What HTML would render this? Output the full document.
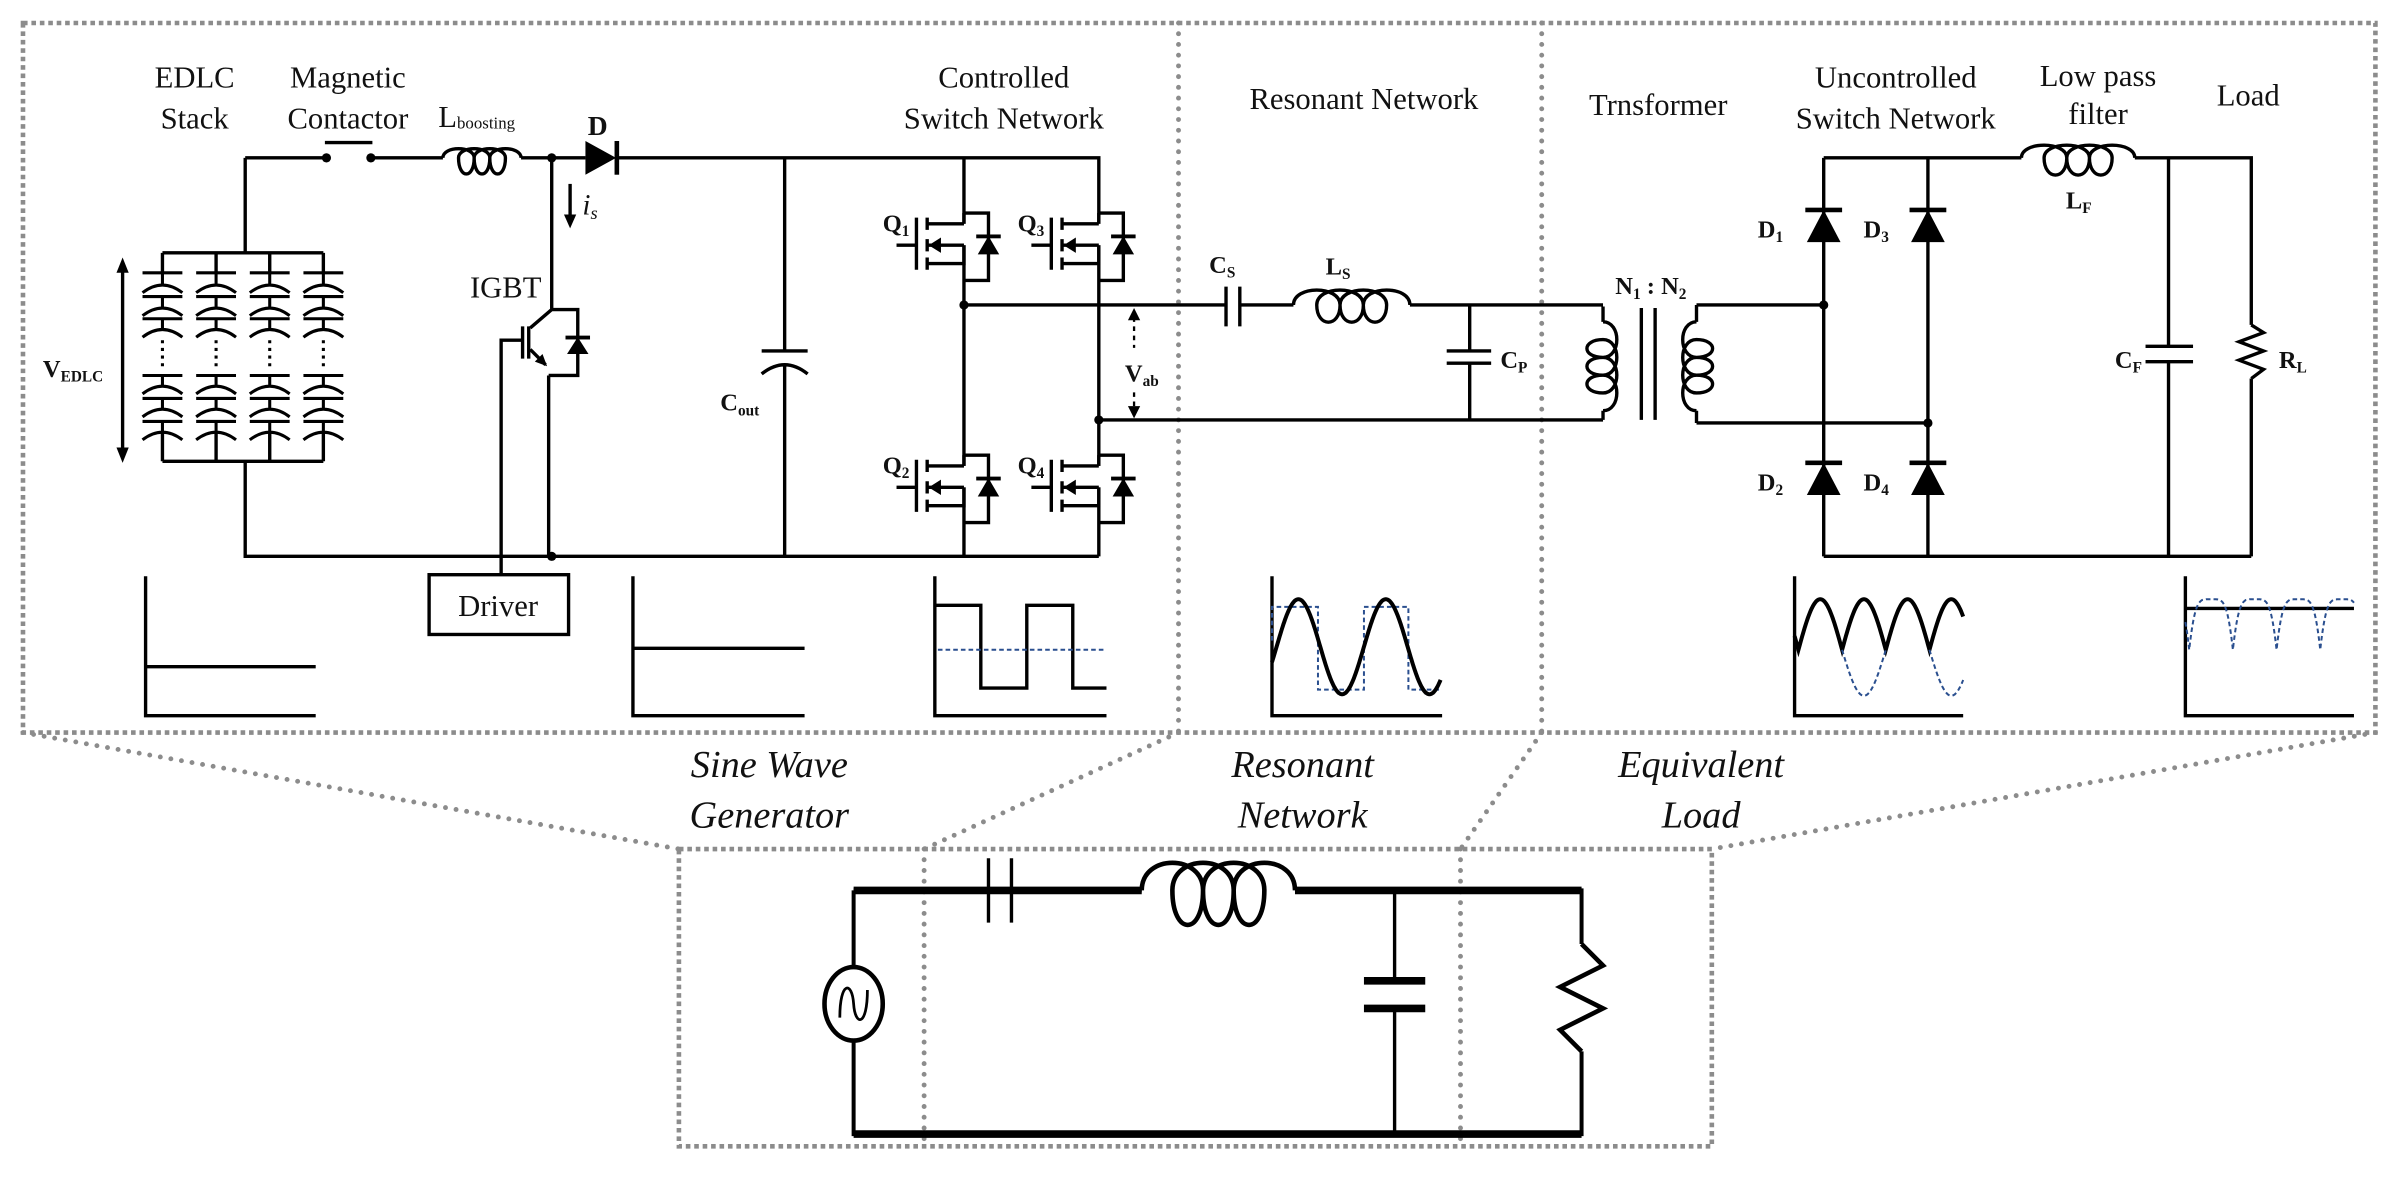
<!DOCTYPE html>
<html><head><meta charset="utf-8">
<style>
html,body{margin:0;padding:0;background:#fff;}
svg{display:block;}
text{font-family:"Liberation Serif",serif;fill:#111;}
.b{font-weight:bold;}
</style></head>
<body>
<svg id="s" width="2403" height="1196" viewBox="0 0 1568 780.4" preserveAspectRatio="none" xmlns="http://www.w3.org/2000/svg">
<g fill="none" stroke="#8c8c8c" stroke-width="3">
  <rect x="15" y="15" width="1535" height="463" stroke-dasharray="3 2.5"/>
  <rect x="443" y="554" width="674" height="194" stroke-dasharray="3 2.5"/>
</g>
<g fill="none" stroke="#8c8c8c" stroke-width="3.2" stroke-linecap="round" stroke-dasharray="0 7">
  <line x1="769" y1="15" x2="769" y2="478"/>
  <line x1="1006" y1="15" x2="1006" y2="478"/>
  <line x1="15" y1="478" x2="443" y2="554"/>
  <line x1="1550" y1="478" x2="1117" y2="554"/>
  <line x1="769" y1="478" x2="603" y2="554"/>
  <line x1="1006" y1="478" x2="953" y2="554"/>
  <line x1="603" y1="554" x2="603" y2="748"/>
  <line x1="953" y1="554" x2="953" y2="748"/>
</g>

<g font-size="20" text-anchor="middle">
  <text x="127" y="57">EDLC</text><text x="127" y="84">Stack</text>
  <text x="227" y="57">Magnetic</text><text x="227" y="84">Contactor</text>
  <text x="655" y="57">Controlled</text><text x="655" y="84">Switch Network</text>
  <text x="890" y="71">Resonant Network</text>
  <text x="1082" y="75">Trnsformer</text>
  <text x="1237" y="57">Uncontrolled</text><text x="1237" y="84">Switch Network</text>
  <text x="1369" y="56">Low pass</text><text x="1369" y="81">filter</text>
  <text x="1467" y="69">Load</text>
  <text x="330" y="194">IGBT</text>
  <text x="325" y="402">Driver</text>
</g>
<text x="286" y="83" font-size="20">L<tspan font-size="11" dy="1">boosting</tspan></text>
<text x="390" y="88" font-size="18" class="b" text-anchor="middle">D</text>
<text x="380" y="140" font-size="19" font-style="italic">i<tspan font-size="12" dy="3">s</tspan></text>
<g font-size="16" class="b">
  <text x="28" y="246">V<tspan font-size="10" dy="3">EDLC</tspan></text>
  <text x="470" y="268">C<tspan font-size="10" dy="3">out</tspan></text>
  <text x="576" y="151">Q<tspan font-size="10" dy="3">1</tspan></text>
  <text x="664" y="151">Q<tspan font-size="10" dy="3">3</tspan></text>
  <text x="576" y="309">Q<tspan font-size="10" dy="3">2</tspan></text>
  <text x="664" y="309">Q<tspan font-size="10" dy="3">4</tspan></text>
  <text x="734" y="249">V<tspan font-size="10" dy="3">ab</tspan></text>
  <text x="789" y="178">C<tspan font-size="10" dy="3">S</tspan></text>
  <text x="865" y="179">L<tspan font-size="10" dy="3">S</tspan></text>
  <text x="979" y="240">C<tspan font-size="10" dy="3">P</tspan></text>
  <text x="1054" y="192">N<tspan font-size="10" dy="3">1</tspan><tspan dy="-3"> : N</tspan><tspan font-size="10" dy="3">2</tspan></text>
  <text x="1147" y="155">D<tspan font-size="10" dy="3">1</tspan></text>
  <text x="1216" y="155">D<tspan font-size="10" dy="3">3</tspan></text>
  <text x="1147" y="320">D<tspan font-size="10" dy="3">2</tspan></text>
  <text x="1216" y="320">D<tspan font-size="10" dy="3">4</tspan></text>
  <text x="1348" y="136">L<tspan font-size="10" dy="3">F</tspan></text>
  <text x="1380" y="240">C<tspan font-size="10" dy="3">F</tspan></text>
  <text x="1487" y="240">R<tspan font-size="10" dy="3">L</tspan></text>
</g>
<g font-size="25" font-style="italic" text-anchor="middle">
  <text x="502" y="507">Sine Wave</text><text x="502" y="540">Generator</text>
  <text x="850" y="507">Resonant</text><text x="850" y="540">Network</text>
  <text x="1110" y="507">Equivalent</text><text x="1110" y="540">Load</text>
</g>

<g id="c" fill="none" stroke="#000" stroke-width="2.2">
  <path d="M160,103 H213 M242,103 H289 M340,103 H382 M403,103 H717 V146"/>
  <path d="M212,93 H243"/>
  <path d="M160,103 V165 M106,165 H211 M106,165 V178 M141,165 V178 M176,165 V178 M211,165 V178"/>
  <path d="M106,282 V301 M141,282 V301 M176,282 V301 M211,282 V301 M106,301 H211 M160,301 V363 H717"/>
  <path d="M360,103 V202 H377 V245 H358 M360,202 L346,214 M358,245 V363"/>
  <path d="M341,213 V234 M345,213 V234"/>
  <path d="M327,375 V222 H341"/>
  <path d="M346,228 L356,238"/>
  <rect x="280" y="375" width="91" height="39"/>
  <path d="M512,103 V229 M497,229 H527 M497,244 Q512,232 527,244 M512,238 V363"/>
  <path d="M629,103 V146 M629,160 V304 M629,318 V363 M717,160 V304 M717,318 V363"/>
  <path d="M629,199 H800 M809,199 H844 M920,199 H1046 M717,274 H1046"/>
  <path d="M959,199 V229 M944,229 H973 M944,237 H973 M959,237 V274"/>
  <path d="M800,187 V213 M809,187 V213"/>
  <path d="M1046,200 V210 M1046,268 V274 M1107,199 V210 M1107,268 V276 M1107,199 H1190 M1107,276 H1258"/>
  <path d="M1071,201 V274 M1080,201 V274"/>
  <path d="M1190,103 V363 M1258,103 V363 M1190,103 H1319 M1393,103 H1469 V212 M1469,247 V363 M1190,363 H1469"/>
  <path d="M1415,103 V226 M1400,226 H1431 M1400,236 H1431 M1415,236 V363"/>
  <path d="M1469,212 L1477,217 L1461,223 L1477,229 L1461,235 L1477,241 L1469,247"/>
  <path d="M80,175 V295"/>
  <path d="M372,120 V144"/>
  <path d="M740,207 V227 M740,256 V268" stroke-dasharray="3 3" stroke-width="1.5"/>
  <path d="M95,376 V467 H206 M95,435 H206"/>
  <path d="M413,376 V467 H525 M413,423 H525"/>
  <path d="M610,376 V467 H722 M610,395 H640 V449 H670 V395 H700 V449 H722"/>
  <path d="M830,376 V467 H941"/>
  <path d="M1171,376 V467 H1281"/>
  <path d="M1426,376 V467 H1536 M1426,397 H1536"/>
  <path d="M557,581 H645 M660,581 H745 M845,581 H1032 V616 M1032,686 V740 H557 V678 M557,632 V581" stroke-width="2.6"/>
  <path d="M557,581 H745 M845,581 H1032 M557,740 H1032" stroke-width="5"/>
  <path d="M645,560 V602 M660,560 V602"/>
  <path d="M910,581 V640 M910,658 V740"/>
  <path d="M890,640 H930 M890,658 H930" stroke-width="5"/>
  <ellipse cx="557" cy="655" rx="19" ry="24" stroke-width="3"/>
  <path d="M548,664 C548,640 556,640 557,655 C558,670 566,670 566,646" stroke-width="1.8"/>
  <path d="M1032,616 L1046,630 L1018,644 L1046,658 L1018,672 L1032,686" stroke-width="3"/>
</g>
<g fill="none" stroke="#2a4f8f" stroke-width="1.3" stroke-dasharray="3 2">
  <path d="M612,424 H722"/>
  <path d="M830,418 V396 H860 V450 H890 V396 H919 V450 H939"/>
</g>
<g fill="#000">
  <circle cx="360" cy="103" r="3"/><circle cx="213" cy="103" r="3"/><circle cx="242" cy="103" r="3"/>
  <circle cx="360" cy="363" r="3"/><circle cx="629" cy="199" r="3"/><circle cx="717" cy="274" r="3"/>
  <circle cx="1190" cy="199" r="3"/><circle cx="1258" cy="276" r="3"/>
  <polygon points="382,92 382,114 402,103"/><rect x="401" y="92" width="3" height="22"/>
  <polygon points="377,220 370,231 384,231"/><rect x="369" y="219" width="16" height="2.5"/>
  <polygon points="357,239 349,236 354,231"/>
  <polygon points="80,168 76,178 84,178"/><polygon points="80,302 76,292 84,292"/>
  <polygon points="372,149 368,140 376,140"/>
  <polygon points="740,201 736,209 744,209"/><polygon points="740,273 736,265 744,265"/>
</g>
<g id="dyn"></g>
</svg>
<script>
(function(){
var NS="http://www.w3.org/2000/svg",dyn=document.getElementById('dyn');
function el(tag,attrs,parent){var e=document.createElementNS(NS,tag);for(var k in attrs)e.setAttribute(k,attrs[k]);(parent||dyn).appendChild(e);return e;}
function coil(xa,xb,y,n,H,D){
  var s=(xb-xa)/(n-0.5*(n-1)),w=s*0.25,u=xa,d="M"+xa+","+y;
  for(var i=0;i<n;i++){
    d+=" C"+u+","+(y-H)+" "+(u+s)+","+(y-H)+" "+(u+s)+","+y;
    if(i<n-1){d+=" C"+(u+s)+","+(y+D)+" "+(u+s-2*w)+","+(y+D)+" "+(u+s-2*w)+","+y;u=u+s-2*w;}
  }
  return d;
}
var st={fill:"none",stroke:"#000","stroke-width":"2.2"};
function P(d,extra,par){var a={d:d};for(var k in st)a[k]=st[k];for(var k2 in (extra||{}))a[k2]=extra[k2];return el("path",a,par);}
P(coil(289,340,103,4,8,14));
P(coil(844,920,199,4,13,15));
P(coil(1319,1393,103,4,11,15));
P(coil(745,845,581,4,24,30),{"stroke-width":"3"});
var g1=el("g",{transform:"translate(1046,210) rotate(90)"});P(coil(0,58,0,4,12,14),{},g1);
var g2=el("g",{transform:"translate(1107,210) rotate(90) scale(1,-1)"});P(coil(0,58,0,4,12,14),{},g2);
var cols=[106,141,176,211],flats=[178,193.5,208,245,260,275],curv=[186,201,215,252,267,282];
cols.forEach(function(x){
  var d="";
  flats.forEach(function(y){d+="M"+(x-13)+","+y+" H"+(x+13)+" ";});
  curv.forEach(function(y){d+="M"+(x-13)+","+(y+5)+" Q"+x+","+(y-5)+" "+(x+13)+","+(y+5)+" ";});
  [[178,186],[193.5,201],[208,215],[245,252],[260,267],[275,282]].forEach(function(p){d+="M"+x+","+p[0]+" V"+(p[1]+1)+" ";});
  P(d,{"stroke-width":"2"});
  P("M"+x+",222 V242",{"stroke-width":"2","stroke-dasharray":"2 3"});
});
function mos(x,y){
  var d="M"+x+","+(y)+" H"+(x+16)+" V"+(y+44)+" H"+x+
    " M"+x+","+(y+7)+" H"+(x-24)+
    " M"+(x-24)+","+(y+3)+" V"+(y+11)+" M"+(x-24)+","+(y+17)+" V"+(y+25)+" M"+(x-24)+","+(y+29)+" V"+(y+37)+
    " M"+(x-24)+","+(y+21)+" H"+x+" M"+(x-24)+","+(y+33)+" H"+x+" V"+(y+21)+
    " M"+(x-31)+","+(y+3)+" V"+(y+37)+" M"+(x-44)+","+(y+21)+" H"+(x-31)+
    " M"+x+","+y+" V"+(y+7);
  P(d);
  el("polygon",{points:(x-23)+","+(y+21)+" "+(x-15)+","+(y+16)+" "+(x-15)+","+(y+26),fill:"#000"});
  el("polygon",{points:(x+16)+","+(y+15)+" "+(x+9)+","+(y+27)+" "+(x+23)+","+(y+27),fill:"#000"});
  el("rect",{x:x+8,y:y+14,width:16,height:2.5,fill:"#000"});
}
mos(629,139);mos(717,139);mos(629,297);mos(717,297);
function dup(x,y){el("polygon",{points:x+","+y+" "+(x-11)+","+(y+21)+" "+(x+11)+","+(y+21),fill:"#000"});el("rect",{x:x-12,y:y-1.5,width:24,height:3,fill:"#000"});}
dup(1190,137);dup(1258,137);dup(1190,302);dup(1258,302);
function poly(f,x0,x1){var d="";for(var x=x0;x<=x1+0.01;x+=0.5){d+=(d?"L":"M")+x.toFixed(1)+","+f(x).toFixed(1)+" ";}return d;}
P(poly(function(x){return 422-31*Math.sin(2*Math.PI*(x-833)/57);},830,940),{"stroke-width":"2.6"});
// rectified: arches above 424, dashed negative halves below
var x0=1173.5,T=28.5;
P(poly(function(x){return 424-33*Math.abs(Math.sin(Math.PI*(x-x0)/T));},1171,1281),{"stroke-width":"2.6"});
var dd="";
[[x0+T,x0+2*T],[x0+3*T,1281]].forEach(function(r){dd+=poly(function(x){return 424+30*Math.abs(Math.sin(Math.PI*(x-x0)/T));},r[0],r[1])+" ";});
P(dd,{stroke:"#2a4f8f","stroke-width":"1.3","stroke-dasharray":"3 2"});
var f3=function(x){var s=Math.abs(Math.sin(Math.PI*(x-1428.5)/28.5));return 391+33*Math.pow(1-s,2.5);};
P(poly(f3,1426,1536),{stroke:"#2a4f8f","stroke-width":"1.3","stroke-dasharray":"3 2"});
})();
</script>
</body></html>
